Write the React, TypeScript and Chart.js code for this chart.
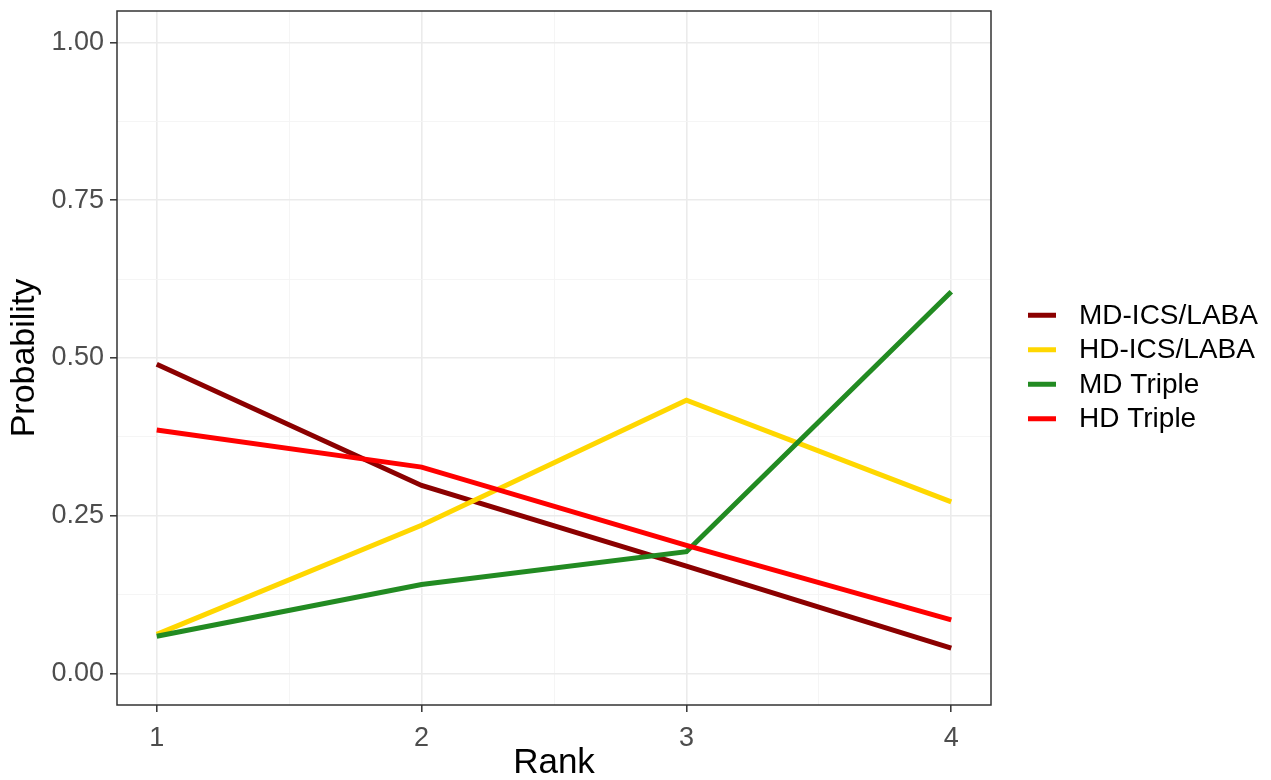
import React, { useEffect, useRef } from "react";
import { Chart, registerables } from "chart.js";

Chart.register(...registerables);

const ranks = [1, 2, 3, 4];
const seriesNames = ["MD-ICS/LABA", "HD-ICS/LABA", "MD Triple", "HD Triple"];
const mdIcsLaba = [0.49, 0.298, 0.17, 0.04];
const hdIcsLaba = [0.062, 0.235, 0.433, 0.272];
const mdTriple = [0.059, 0.141, 0.193, 0.605];
const hdTriple = [0.386, 0.327, 0.203, 0.085];
const seriesColors = ["#8B0000", "#FFD700", "#228B22", "#FF0000"];
const xTickValues = [1, 1.5, 2, 2.5, 3, 3.5, 4];
const yTickValues = [0, 0.125, 0.25, 0.375, 0.5, 0.625, 0.75, 0.875, 1];
const xMajor = [1, 2, 3, 4];
const yMajor = [0, 0.25, 0.5, 0.75, 1];

const FONT = "'Liberation Sans', Arial, sans-serif";

const isMajor = (v: number, list: number[]) => list.some((m) => Math.abs(m - v) < 1e-9);

const panelPlugin = {
  id: "panelAndLegend",
  afterDatasetsDraw(chart: any) {
    const { ctx, chartArea: a } = chart;
    ctx.save();
    ctx.strokeStyle = "#333333";
    ctx.lineWidth = 1.5;
    ctx.strokeRect(a.left, a.top, a.right - a.left, a.bottom - a.top);
    ctx.restore();
  },
  afterDraw(chart: any) {
    const { ctx, chartArea: a } = chart;
    ctx.save();
    const keyX = a.right + 37;
    const textX = a.right + 88;
    const rowH = 34.5;
    const centerY = chart.height / 2 - 23;
    const startY = centerY - (rowH * (seriesNames.length - 1)) / 2;
    ctx.font = `28px ${FONT}`;
    ctx.textBaseline = "middle";
    ctx.textAlign = "left";
    seriesNames.forEach((name, i) => {
      const y = startY + i * rowH;
      ctx.strokeStyle = seriesColors[i];
      ctx.lineWidth = 5;
      ctx.beginPath();
      ctx.moveTo(keyX, y);
      ctx.lineTo(keyX + 28, y);
      ctx.stroke();
      ctx.fillStyle = "#000000";
      ctx.fillText(name, textX, y + 1);
    });
    ctx.restore();
  },
};

export default function App() {
  const ref = useRef<HTMLCanvasElement | null>(null);

  useEffect(() => {
    document.body.style.margin = "0";
    const canvas = ref.current;
    if (!canvas) return;
    const values = [mdIcsLaba, hdIcsLaba, mdTriple, hdTriple];
    const chart = new Chart(canvas, {
      type: "line",
      data: {
        datasets: seriesNames.map((name, i) => ({
          label: name,
          data: ranks.map((r, j) => ({ x: r, y: values[i][j] })),
          borderColor: seriesColors[i],
          backgroundColor: seriesColors[i],
          borderWidth: 5,
          pointRadius: 0,
          pointHoverRadius: 0,
          tension: 0,
          fill: false,
          order: seriesNames.length - 1 - i,
        })),
      },
      options: {
        responsive: false,
        animation: false,
        events: [],
        layout: { padding: { top: 11, right: 280, bottom: 0, left: 0 } },
        plugins: {
          legend: { display: false },
          tooltip: { enabled: false },
        },
        scales: {
          x: {
            type: "linear",
            min: 0.85,
            max: 4.15,
            afterBuildTicks: (s: any) => {
              s.ticks = xTickValues.map((v) => ({ value: v }));
            },
            afterFit: (s: any) => {
              s.height = 75;
              s.paddingLeft = 0;
              s.paddingRight = 0;
            },
            border: { display: false },
            grid: {
              color: (c: any) => (isMajor(c.tick?.value, xMajor) ? "#ebebeb" : "#f4f4f4"),
              lineWidth: (c: any) => (isMajor(c.tick?.value, xMajor) ? 1.6 : 0.9),
              tickColor: (c: any) => (isMajor(c.tick?.value, xMajor) ? "#333333" : "rgba(0,0,0,0)"),
              tickWidth: 1.5,
              tickLength: 7,
              drawTicks: true,
            },
            ticks: {
              autoSkip: false,
              maxRotation: 0,
              padding: 10,
              color: "#4d4d4d",
              font: { family: FONT, size: 27 },
              callback: (v: any) => (isMajor(Number(v), xMajor) ? String(v) : ""),
            },
            title: {
              display: true,
              text: "Rank",
              color: "#000000",
              font: { family: FONT, size: 35, lineHeight: 1 },
              padding: { top: 0, bottom: -1 },
            },
          },
          y: {
            type: "linear",
            min: -0.05,
            max: 1.05,
            afterBuildTicks: (s: any) => {
              s.ticks = yTickValues.map((v) => ({ value: v }));
            },
            afterFit: (s: any) => {
              s.width = 117;
              s.paddingTop = 0;
              s.paddingBottom = 0;
            },
            border: { display: false },
            grid: {
              color: (c: any) => (isMajor(c.tick?.value, yMajor) ? "#ebebeb" : "#f4f4f4"),
              lineWidth: (c: any) => (isMajor(c.tick?.value, yMajor) ? 1.6 : 0.9),
              tickColor: (c: any) => (isMajor(c.tick?.value, yMajor) ? "#333333" : "rgba(0,0,0,0)"),
              tickWidth: 1.5,
              tickLength: 7,
              drawTicks: true,
            },
            ticks: {
              autoSkip: false,
              padding: 6,
              color: "#4d4d4d",
              font: { family: FONT, size: 27 },
              callback: (v: any) => (isMajor(Number(v), yMajor) ? Number(v).toFixed(2) : ""),
            },
            title: {
              display: true,
              text: "Probability",
              color: "#000000",
              font: { family: FONT, size: 34, lineHeight: 1 },
              padding: { top: 8, bottom: 0 },
            },
          },
        },
      },
      plugins: [panelPlugin],
    } as any);
    return () => chart.destroy();
  }, []);

  return (
    <div style={{ width: 1271, height: 780, background: "#ffffff" }}>
      <canvas ref={ref} width={1271} height={780} style={{ display: "block" }} />
    </div>
  );
}
